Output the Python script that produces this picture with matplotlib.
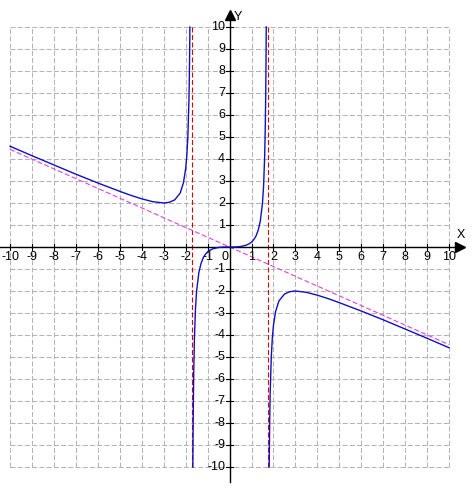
import matplotlib
matplotlib.use("Agg")
import matplotlib.pyplot as plt

# curve, three branches split by the vertical asymptotes
left_x = [-10, -9, -8, -7, -6, -5, -4.5, -4, -3.5, -3, -2.75, -2.5, -2.25,
          -2.1, -2.0, -1.95, -1.9, -1.85, -1.83, -1.81, -1.807]
left_y = [4.58, 4.15, 3.73, 3.31, 2.91, 2.53, 2.35, 2.19, 2.06, 2.00, 2.03,
          2.14, 2.45, 2.92, 3.56, 4.11, 5.00, 6.66, 7.81, 9.56, 10.0]

mid_x = [-1.671, -1.66, -1.65, -1.63, -1.6, -1.55, -1.5, -1.4, -1.3, -1.2,
         -1.1, -1.0, -0.9, -0.75, -0.5, -0.25, 0, 0.25, 0.5, 0.75, 0.9, 1.0,
         1.1, 1.2, 1.3, 1.4, 1.5, 1.55, 1.6, 1.63, 1.65, 1.66, 1.671]
mid_y = [-10.0, -8.32, -7.18, -5.61, -4.14, -2.77, -2.00, -1.17, -0.75,
         -0.49, -0.33, -0.22, -0.15, -0.08, -0.02, 0.00, 0, 0.00, 0.02, 0.08,
         0.15, 0.22, 0.33, 0.49, 0.75, 1.17, 2.00, 2.77, 4.14, 5.61, 7.18,
         8.32, 10.0]

right_x = [1.807, 1.81, 1.83, 1.85, 1.9, 1.95, 2.0, 2.1, 2.25, 2.5, 2.75, 3,
           3.5, 4, 4.5, 5, 6, 7, 8, 9, 10]
right_y = [-10.0, -9.56, -7.81, -6.66, -5.00, -4.11, -3.56, -2.92, -2.45,
           -2.14, -2.03, -2.00, -2.06, -2.19, -2.35, -2.53, -2.91, -3.31,
           -3.73, -4.15, -4.58]

# asymptotes
vert_asym_x = [-1.73, 1.73]
slant_x = [-10, 10]
slant_y = [4.44, -4.44]

ticks = list(range(-10, 11))


def main():
    plt.rcParams['font.family'] = ['Liberation Sans', 'DejaVu Sans']
    plt.rcParams['lines.scale_dashes'] = False

    fig = plt.figure(figsize=(4.75, 5.0), dpi=100)
    ax = fig.add_axes([0, 0, 1, 1])
    ax.set_xlim(-10.456, 11.18)
    ax.set_ylim(-11.5, 11.227)
    ax.axis('off')

    # dashed grid
    for t in ticks:
        ax.plot([t, t], [-10, 10], color='#b4b4b4', lw=0.75,
                dashes=(3.6, 1.6), zorder=1)
        ax.plot([-10, 10], [t, t], color='#b4b4b4', lw=0.75,
                dashes=(3.6, 1.6), zorder=1)

    # axes with arrows
    ax.plot([-10.46, 10.4], [0, 0], color='black', lw=1.0, zorder=3)
    ax.plot([0, 0], [-10.7, 10.4], color='black', lw=1.0, zorder=3)
    ax.plot([10.5], [0], marker='>', color='black', ms=7, zorder=4)
    ax.plot([0], [10.55], marker='^', color='black', ms=7, zorder=4)
    ax.text(10.55, 0.25, 'X', fontsize=9, ha='center', va='bottom')
    ax.text(0.2, 10.45, 'Y', fontsize=9, ha='left', va='center')

    # tick marks and labels
    for t in ticks:
        if t == 0:
            continue
        ax.plot([t, t], [-0.14, 0.14], color='black', lw=0.8, zorder=3)
        ax.plot([-0.14, 0.14], [t, t], color='black', lw=0.8, zorder=3)
        ax.text(t, -0.2, str(t), fontsize=9, ha='center', va='top')
        ax.text(-0.2, t, str(t), fontsize=9, ha='right', va='center')
    ax.text(-0.05, -0.2, '0', fontsize=9, ha='right', va='top')

    # asymptotes
    for a in vert_asym_x:
        ax.plot([a, a], [-10, 10], color='#e00000', lw=0.8,
                dashes=(3.6, 1.8), zorder=2)
    ax.plot(slant_x, slant_y, color='#e040e0', lw=0.8,
            dashes=(3.6, 1.8), zorder=2)

    # the function
    for xs, ys in [(left_x, left_y), (mid_x, mid_y), (right_x, right_y)]:
        ax.plot(xs, ys, color='#1010c0', lw=1.0, zorder=5)

    fig.savefig('out.png', dpi=100)


if __name__ == "__main__":
    main()
